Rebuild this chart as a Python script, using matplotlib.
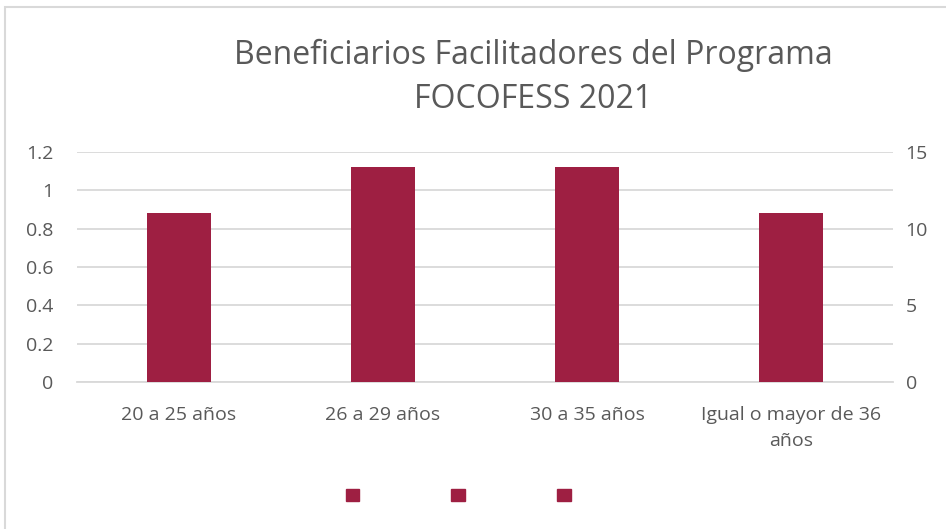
import numpy as np
import matplotlib.pyplot as plt
from matplotlib.patches import Patch, Rectangle

plt.rcParams['font.family'] = ['Open Sans', 'DejaVu Sans']

categorias = ['20 a 25 años', '26 a 29 años', '30 a 35 años', 'Igual o mayor de 36\naños']
beneficiarios = [11, 14, 14, 11]
ticks_izq = [0, 0.2, 0.4, 0.6, 0.8, 1, 1.2]
ticks_der = [0, 5, 10, 15]

color_barra = '#9E1F42'
gris_texto = '#595959'
gris_grid = '#D9D9D9'

fig = plt.figure(figsize=(9.46, 5.29), dpi=100)
ax = fig.add_axes([77/946, 1 - 382/529, 816/946, 230/529])
ax2 = ax.twinx()

x = np.arange(len(categorias))
ax2.bar(x, beneficiarios, width=0.31, color=color_barra, zorder=3)
ax2.set_ylim(0, 15)
ax2.set_yticks(ticks_der)
ax.set_ylim(0, 1.2)
ax.set_yticks(ticks_izq)
ax.set_yticklabels(['0', '0.2', '0.4', '0.6', '0.8', '1', '1.2'])
ax.set_xlim(-0.5, len(categorias) - 0.5)
ax.set_xticks(x)
ax.set_xticklabels(categorias, multialignment='center', linespacing=1.6)

ax.grid(axis='y', color=gris_grid, linewidth=1.3)
ax.set_axisbelow(True)
for a in (ax, ax2):
    for s in a.spines.values():
        s.set_visible(False)
    a.tick_params(length=0, labelsize=14, colors=gris_texto)
ax.tick_params(axis='y', pad=17)
ax2.tick_params(axis='y', pad=9)
ax.tick_params(axis='x', pad=17)
ax.spines['bottom'].set_visible(True)
ax.spines['bottom'].set_color(gris_grid)
ax.spines['bottom'].set_linewidth(1.3)

fig.text(533/946, 1 - 55/529, 'Beneficiarios Facilitadores del Programa', ha='center', va='center',
         fontsize=23, color=gris_texto)
fig.text(533/946, 1 - 99/529, 'FOCOFESS 2021', ha='center', va='center',
         fontsize=23, color=gris_texto)

handles = [Patch(color=color_barra) for _ in range(3)]
fig.legend(handles, ['', '', ''], ncol=3, loc='center', bbox_to_anchor=(458/946, 1 - 496/529),
           frameon=False, handlelength=1.0, handleheight=1.0, columnspacing=6.6, handletextpad=0)

fig.patches.append(Rectangle((5/946, -0.1), 1.2, 1 - 7/529 + 0.1, transform=fig.transFigure,
                             fill=False, edgecolor='#D9D9D9', linewidth=1.5))

fig.savefig('out.png', dpi=100)
